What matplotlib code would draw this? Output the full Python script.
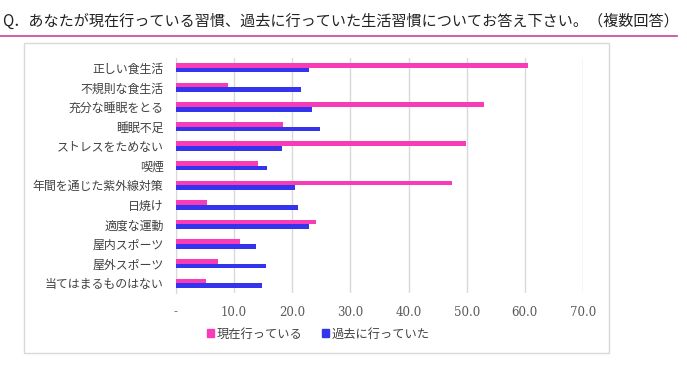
import numpy as np
import matplotlib.pyplot as plt
from matplotlib.patches import Rectangle, Patch
from matplotlib.lines import Line2D

plt.rcParams['font.family'] = ['Noto Sans CJK JP', 'DejaVu Sans']

TITLE = 'Q．あなたが現在行っている習慣、過去に行っていた生活習慣についてお答え下さい。（複数回答）'

categories = ['正しい食生活', '不規則な食生活', '充分な睡眠をとる', '睡眠不足',
              'ストレスをためない', '喫煙', '年間を通じた紫外線対策', '日焼け',
              '適度な運動', '屋内スポーツ', '屋外スポーツ', '当てはまるものはない']
current = [60.5, 8.9, 52.9, 18.4, 49.8, 14.1, 47.4, 5.3, 24.1, 11.0, 7.2, 5.1]
past = [22.9, 21.5, 23.4, 24.8, 18.2, 15.6, 20.5, 21.0, 22.9, 13.7, 15.5, 14.8]
series_names = ['現在行っている', '過去に行っていた']
xticks = [0, 10, 20, 30, 40, 50, 60, 70]
xtick_labels = ['-', '10.0', '20.0', '30.0', '40.0', '50.0', '60.0', '70.0']

PINK = '#F83CB8'
BLUE = '#3434EE'
W, H = 687, 376

fig = plt.figure(figsize=(W / 100, H / 100), dpi=100)

# title + underline
fig.text(2 / W, 1 - 21 / H, TITLE, fontsize=10.9, color='#222222', va='center', ha='left')
fig.add_artist(Line2D([0, 677 / W], [1 - 36 / H, 1 - 36 / H], color='#C8449E', lw=1.2,
                      transform=fig.transFigure))

# chart frame
fig.add_artist(Rectangle((24 / W, 1 - 353 / H), (609 - 24) / W, (353 - 43) / H,
                         transform=fig.transFigure, fill=False, edgecolor='#D9D9D9', lw=1))

ax = fig.add_axes([176 / W, 1 - 293 / H, (583 - 176) / W, (293 - 58) / H])
y = np.arange(len(categories))
h = 0.24
ax.barh(y - h / 2, current, height=h, color=PINK, zorder=3)
ax.barh(y + h / 2, past, height=h, color=BLUE, zorder=3)

ax.set_ylim(len(categories) - 0.5, -0.5)
ax.set_xlim(0, 70)
ax.set_yticks(y)
ax.set_yticklabels(categories, fontsize=8.6, color='#404040')
ax.set_xticks(xticks)
ax.set_xticklabels(xtick_labels, fontsize=8.5, color='#595959', family=['DejaVu Serif'])
ax.tick_params(axis='y', length=0, pad=9)
ax.tick_params(axis='x', length=0, pad=9)
ax.grid(axis='x', color='#D9D9D9', lw=1, zorder=0)
for s in ['top', 'right', 'bottom']:
    ax.spines[s].set_visible(False)
ax.spines['left'].set_color('#D9D9D9')

handles = [Patch(color=PINK, label=series_names[0]), Patch(color=BLUE, label=series_names[1])]
fig.legend(handles=handles, loc='center', bbox_to_anchor=(318 / W, 1 - 334 / H),
           ncol=2, frameon=False, fontsize=8.8, handlelength=0.6, handleheight=0.6,
           handletextpad=0.2, columnspacing=1.6, labelcolor='#404040')

fig.savefig('out.png', dpi=100)
